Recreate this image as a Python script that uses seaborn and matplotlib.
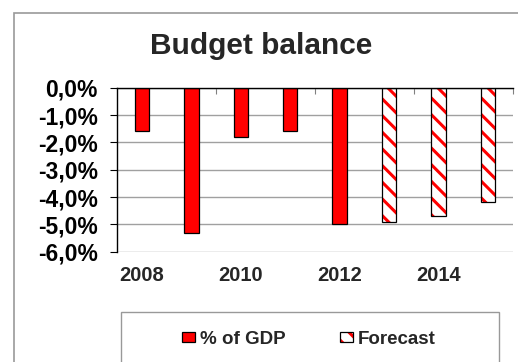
import matplotlib
matplotlib.use("Agg")
import matplotlib.pyplot as plt
import matplotlib.ticker as mticker
from matplotlib.patches import Rectangle, Patch
from matplotlib.legend_handler import HandlerTuple
import seaborn as sns
import pandas as pd

years = ["2008", "2009", "2010", "2011", "2012", "2013", "2014", "2015"]
values = [-1.6, -5.3, -1.8, -1.6, -5.0, -4.9, -4.7, -4.2]
kinds = ["% of GDP"] * 5 + ["Forecast"] * 3
label_years = ["2008", "2010", "2012", "2014"]
title = "Budget balance"

sns.set_style("white")
plt.rcParams["font.family"] = ["Liberation Sans", "DejaVu Sans"]
plt.rcParams["hatch.linewidth"] = 2.2

df = pd.DataFrame({"year": years, "value": values, "kind": kinds})

fig = plt.figure(figsize=(5.18, 3.62), dpi=100)
W, H = 518, 362
ax = fig.add_axes([117.3 / W, 1 - 251.7 / H, (512.5 - 117.3) / W, (251.7 - 87.7) / H])

sns.barplot(data=df, x="year", y="value", hue="kind", order=years, dodge=False,
            palette={"% of GDP": "#ff0000", "Forecast": "white"}, width=0.29,
            saturation=1, edgecolor="black", linewidth=0.9, legend=False, ax=ax)

# style forecast bars with red diagonal hatching
for p in list(ax.patches):
    if tuple(p.get_facecolor()[:3]) == (1.0, 1.0, 1.0) and p.get_height() != 0:
        x, y = p.get_xy()
        w, h = p.get_width(), p.get_height()
        p.set_hatch("\\\\")
        p.set_edgecolor("#ff0000")
        p.set_linewidth(0)
        ax.add_patch(Rectangle((x, y), w, h, fill=False, edgecolor="black", linewidth=0.9,
                               zorder=p.get_zorder() + 0.1))

ax.set_ylim(-6, 0)
ax.set_xlim(-0.5, 7.5)
ax.yaxis.set_major_locator(mticker.MultipleLocator(1))
ax.yaxis.set_major_formatter(mticker.FuncFormatter(
    lambda v, pos: f"{v:.1f}%".replace(".", ",").replace("-0,0", "0,0")))
ax.yaxis.grid(True, color="#a0a0a0", linewidth=1.0)
ax.set_axisbelow(True)

ax.set_xticks([years.index(y) for y in label_years])
ax.set_xticklabels(label_years)
ax.xaxis.set_minor_locator(mticker.FixedLocator([1.5, 3.5, 5.5, 7.5]))
ax.tick_params(axis="x", which="major", bottom=True, top=False, length=0, pad=10,
               labelsize=14.5)
ax.tick_params(axis="x", which="minor", bottom=False, top=True, direction="in", length=4,
               width=0.8, color="#808080")
ax.tick_params(axis="y", which="major", left=True, length=5, width=0.8, pad=9,
               labelsize=16.5, colors="black")
for lab in ax.get_xticklabels() + ax.get_yticklabels():
    lab.set_fontweight("bold")

ax.set_xlabel("")
ax.set_ylabel("")
for s in ["right", "bottom"]:
    ax.spines[s].set_visible(False)
ax.spines["top"].set_color("black")
ax.spines["left"].set_color("black")
ax.spines["top"].set_linewidth(1.0)
ax.spines["left"].set_linewidth(1.0)

fig.text(261 / W, 1 - 46 / H, title, ha="center", va="center", fontsize=21.5, fontweight="bold")

# outer chart frame (extends past image)
fig.patches.append(Rectangle((13.5 / W, -0.2), 1.2, 1 - 13 / H + 0.2, transform=fig.transFigure,
                             fill=False, edgecolor="#999999", linewidth=1.2))
# legend frame (extends past image bottom)
fig.patches.append(Rectangle((120.5 / W, -0.2), (499 - 120.5) / W, 1 - 312 / H + 0.2,
                             transform=fig.transFigure, fill=False, edgecolor="#999999",
                             linewidth=1.0))

h_gdp = Patch(facecolor="#ff0000", edgecolor="black", linewidth=0.9)
h_fc_fill = Patch(facecolor="white", edgecolor="#ff0000", linewidth=0, hatch="\\\\")
h_fc_edge = Patch(facecolor="none", edgecolor="black", linewidth=0.9)
leg = fig.legend(handles=[h_gdp, (h_fc_fill, h_fc_edge)], labels=["% of GDP", "Forecast"],
                 handler_map={tuple: HandlerTuple(ndivide=1, pad=0)},
                 loc="center", bbox_to_anchor=(309 / W, 1 - 339 / H), ncol=2,
                 frameon=False, prop={"weight": "bold", "size": 13.5}, handlelength=0.7,
                 handleheight=0.5, handletextpad=0.25, columnspacing=2.9)

fig.savefig("out.png", dpi=100)
